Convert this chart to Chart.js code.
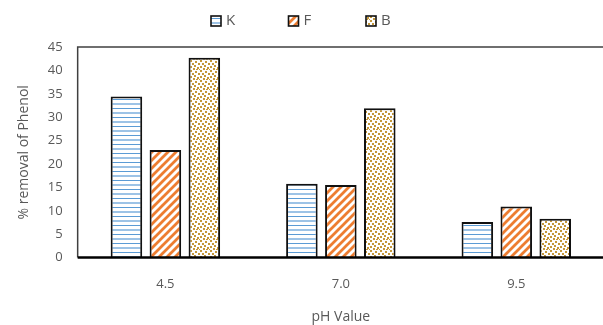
<!DOCTYPE html>
<html>
<head>
<meta charset="utf-8">
<script src="https://cdn.jsdelivr.net/npm/chart.js@4.4.1/dist/chart.umd.min.js"></script>
<style>
  html, body { margin: 0; padding: 0; background: #fff; overflow: hidden; }
  #wrap { position: relative; width: 606px; height: 325px; }
</style>
</head>
<body>
<div id="wrap"><canvas id="chart"></canvas></div>
<script>
// pH values tested and % phenol removal for each adsorbent
const phValues = ['4.5', '7.0', '9.5'];
const seriesNames = ['K', 'F', 'B'];
const removalK = [34.4, 15.8, 7.6];
const removalF = [23.0, 15.5, 10.9];
const removalB = [42.7, 31.9, 8.3];
const yTicks = [0, 5, 10, 15, 20, 25, 30, 35, 40, 45];

const TEXT = '#595959';
const FONT = '"Open Sans", "DejaVu Sans", sans-serif';

function tile(w, h, draw) {
  const c = document.createElement('canvas');
  c.width = w; c.height = h;
  const g = c.getContext('2d');
  g.fillStyle = '#ffffff';
  g.fillRect(0, 0, w, h);
  draw(g);
  return document.createElement('canvas').getContext('2d').createPattern(c, 'repeat');
}

// horizontal blue lines
const hLines = tile(8, 9, g => {
  g.fillStyle = '#5b9bd5';
  g.fillRect(0, 0, 8, 1);
  g.fillStyle = 'rgba(91,155,213,0.6)';
  g.fillRect(0, 4, 8, 1);
  g.fillRect(0, 5, 8, 1);
});

// orange forward diagonal stripes
const dStripes = tile(8, 8, g => {
  g.strokeStyle = '#ed7d31';
  g.lineWidth = 2.8;
  g.beginPath();
  g.moveTo(-2, 10); g.lineTo(10, -2);
  g.moveTo(-6, 6); g.lineTo(6, -6);
  g.moveTo(2, 14); g.lineTo(14, 2);
  g.stroke();
});

// gold dotted fill
const dots = tile(10, 10, g => {
  g.fillStyle = '#c4973a';
  const pts = [[0,0],[5,1],[2,3],[8,3],[4,5],[0,6],[7,7],[3,8],[9,9],[6,9]];
  pts.forEach(([x, y]) => g.fillRect(x, y, 2, 2));
});

// frame on top and sides of the plot area, heavy baseline
const frame = {
  id: 'frame',
  afterDatasetsDraw(chart) {
    const { ctx, chartArea: a } = chart;
    ctx.save();
    ctx.strokeStyle = '#404040';
    ctx.lineWidth = 1.5;
    ctx.beginPath();
    ctx.moveTo(a.left, a.bottom);
    ctx.lineTo(a.left, a.top);
    ctx.lineTo(a.right, a.top);
    ctx.lineTo(a.right, a.bottom);
    ctx.stroke();
    ctx.strokeStyle = '#000000';
    ctx.lineWidth = 2.5;
    ctx.beginPath();
    ctx.moveTo(a.left, a.bottom);
    ctx.lineTo(a.right, a.bottom);
    ctx.stroke();
    ctx.restore();
  }
};

// legend row across the top: patterned square + series name
const topLegend = {
  id: 'topLegend',
  afterDraw(chart) {
    const { ctx } = chart;
    const step = 77.5;
    const x0 = chart.width / 2 - 92;
    const cy = 21;
    ctx.save();
    chart.data.datasets.forEach((ds, i) => {
      const x = x0 + i * step;
      ctx.fillStyle = ds.backgroundColor;
      ctx.fillRect(x, cy - 5, 10, 10);
      ctx.strokeStyle = '#111111';
      ctx.lineWidth = 1.6;
      ctx.strokeRect(x, cy - 5, 10, 10);
      ctx.fillStyle = TEXT;
      ctx.font = '15px ' + FONT;
      ctx.textBaseline = 'middle';
      ctx.textAlign = 'left';
      ctx.fillText(ds.label, x + 15, cy);
    });
    ctx.restore();
  }
};

const common = {
  borderColor: '#111111',
  borderWidth: 2,
  borderSkipped: 'start',
  categoryPercentage: 0.666,
  barPercentage: 0.81
};

new Chart(document.getElementById('chart'), {
  type: 'bar',
  data: {
    labels: phValues,
    datasets: [
      { label: seriesNames[0], data: removalK, backgroundColor: hLines, ...common },
      { label: seriesNames[1], data: removalF, backgroundColor: dStripes, ...common },
      { label: seriesNames[2], data: removalB, backgroundColor: dots, ...common }
    ]
  },
  options: {
    responsive: true,
    maintainAspectRatio: false,
    animation: false,
    layout: { padding: { top: 47, right: 2, left: 16, bottom: 0 } },
    plugins: {
      legend: { display: false },
      tooltip: { enabled: false }
    },
    scales: {
      x: {
        grid: { display: false, drawTicks: false },
        border: { display: false },
        ticks: { color: TEXT, font: { family: FONT, size: 13 }, padding: 19 },
        title: {
          display: true, text: 'pH Value', color: TEXT,
          font: { family: FONT, size: 14 }, padding: { top: -3, bottom: 0 }
        }
      },
      y: {
        min: 0, max: 45,
        afterBuildTicks(axis) { axis.ticks = yTicks.map(v => ({ value: v })); },
        grid: { display: false, drawTicks: false },
        border: { display: false },
        ticks: { color: TEXT, font: { family: FONT, size: 13 }, padding: 15 },
        title: {
          display: true, text: '% removal of Phenol', color: TEXT,
          font: { family: FONT, size: 14 }, padding: { top: 0, bottom: 0 }
        }
      }
    }
  },
  plugins: [frame, topLegend]
});
</script>
</body>
</html>
